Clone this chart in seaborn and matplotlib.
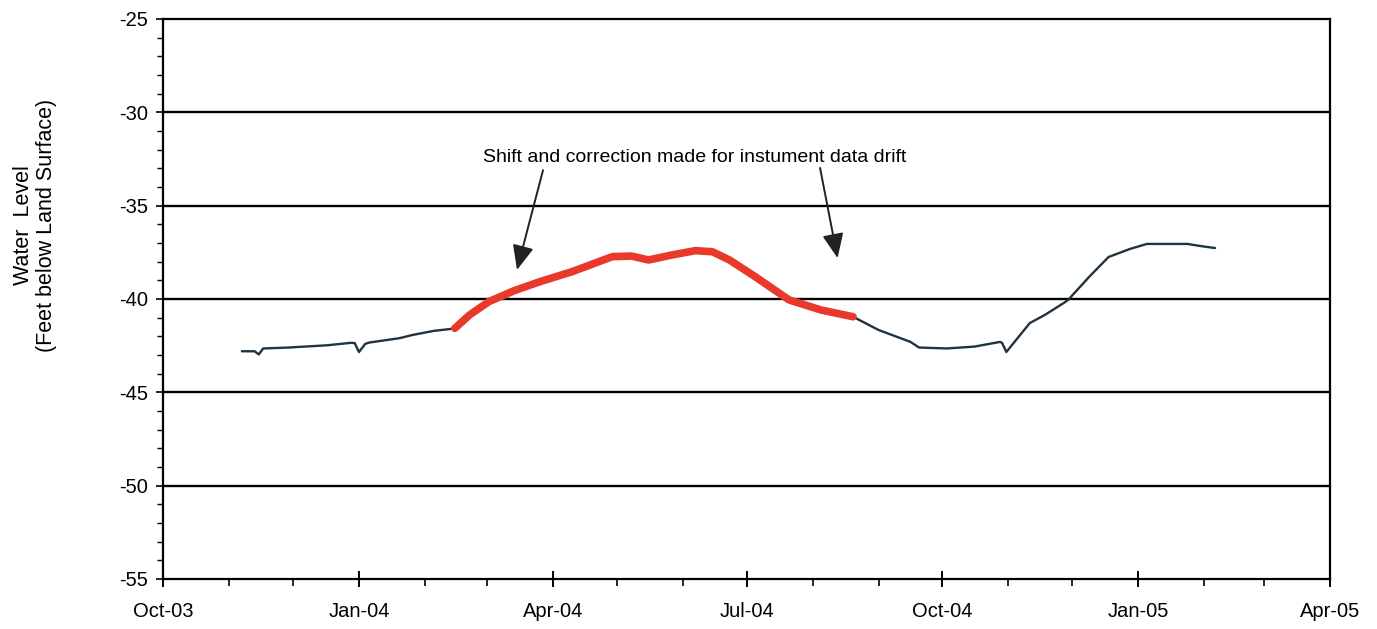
import pandas as pd
import matplotlib.pyplot as plt
import matplotlib.dates as mdates
from matplotlib.ticker import MultipleLocator
import seaborn as sns

# readings before the corrected period
pre_dates = ["2003-11-07", "2003-11-13", "2003-11-15", "2003-11-17", "2003-11-29",
             "2003-12-17", "2003-12-28", "2003-12-30", "2004-01-01", "2004-01-04",
             "2004-01-06", "2004-01-20", "2004-01-26", "2004-02-05", "2004-02-15"]
pre_level = [-42.80, -42.80, -42.97, -42.65, -42.60,
             -42.48, -42.35, -42.36, -42.84, -42.40,
             -42.33, -42.10, -41.93, -41.71, -41.58]

# shifted / corrected readings (red)
fix_dates = ["2004-02-15", "2004-02-22", "2004-03-02", "2004-03-14", "2004-03-26",
             "2004-04-10", "2004-04-29", "2004-05-08", "2004-05-16", "2004-05-27",
             "2004-06-07", "2004-06-15", "2004-06-23", "2004-07-05", "2004-07-21",
             "2004-08-05", "2004-08-20"]
fix_level = [-41.57, -40.85, -40.14, -39.55, -39.07,
             -38.54, -37.73, -37.70, -37.91, -37.64,
             -37.41, -37.47, -37.91, -38.80, -40.05,
             -40.59, -40.95]

# readings after the corrected period
post_dates = ["2004-08-20", "2004-09-01", "2004-09-16", "2004-09-20", "2004-10-03",
              "2004-10-16", "2004-10-28", "2004-10-29", "2004-10-31", "2004-11-11",
              "2004-11-18", "2004-11-27", "2004-11-29", "2004-12-09", "2004-12-18",
              "2004-12-28", "2005-01-05", "2005-01-24", "2005-01-30", "2005-02-06"]
post_level = [-40.95, -41.66, -42.30, -42.60, -42.65,
              -42.55, -42.30, -42.35, -42.84, -41.29,
              -40.86, -40.21, -40.05, -38.80, -37.75,
              -37.32, -37.05, -37.05, -37.16, -37.27]

pre = pd.DataFrame({"date": pd.to_datetime(pre_dates), "level": pre_level})
fix = pd.DataFrame({"date": pd.to_datetime(fix_dates), "level": fix_level})
post = pd.DataFrame({"date": pd.to_datetime(post_dates), "level": post_level})

sns.set_style("white")
plt.rcParams['font.family'] = ['Liberation Sans', 'DejaVu Sans']
plt.rcParams['axes.unicode_minus'] = False
plt.rcParams['text.color'] = 'black'
plt.rcParams['axes.labelcolor'] = 'black'

fig = plt.figure(figsize=(13.77, 6.29), dpi=100)
ax = fig.add_axes([0.1184, 0.0795, 0.8475, 0.8903])

line_col = "#1e3440"
sns.lineplot(data=pre, x="date", y="level", ax=ax, color=line_col, linewidth=1.7)
sns.lineplot(data=post, x="date", y="level", ax=ax, color=line_col, linewidth=1.7)
sns.lineplot(data=fix, x="date", y="level", ax=ax, color="#e8392b", linewidth=5.5,
             solid_capstyle="round")

ax.set_xlim(pd.Timestamp("2003-10-01"), pd.Timestamp("2005-04-01"))
ax.set_ylim(-55, -25)

for y in [-30, -35, -40, -45, -50]:
    ax.axhline(y, color="black", linewidth=1.7, zorder=0)

ax.yaxis.set_major_locator(MultipleLocator(5))
ax.yaxis.set_minor_locator(MultipleLocator(1))
ax.xaxis.set_major_locator(mdates.MonthLocator(bymonth=[1, 4, 7, 10]))
ax.xaxis.set_minor_locator(mdates.MonthLocator())
ax.xaxis.set_major_formatter(mdates.DateFormatter("%b-%y"))

ax.tick_params(axis="y", which="major", direction="out", length=5, width=1.2,
               labelsize=14.5, pad=6, left=True, colors="black")
ax.tick_params(axis="y", which="minor", direction="out", length=4, width=1, left=True,
               colors="black")
ax.tick_params(axis="x", which="major", direction="inout", length=11, width=1.4,
               labelsize=14.5, pad=11, bottom=True, colors="black")
ax.tick_params(axis="x", which="minor", direction="out", length=5, width=1.2, bottom=True,
               colors="black")

for s in ax.spines.values():
    s.set_color("black")
    s.set_linewidth(1.6)

ax.set_xlabel("")
ax.set_ylabel("")
fig.text(0.0255, 0.642, "Water  Level\n(Feet below Land Surface)", rotation=90,
         ha="center", va="center", fontsize=15.5, linespacing=1.15, multialignment="center")

ax.text(0.4555, 0.752, "Shift and correction made for instument data drift",
        transform=ax.transAxes, ha="center", va="center", fontsize=14)
arrow = dict(arrowstyle="-|>,head_length=1.5,head_width=0.65", color="#222222",
             linewidth=1.4, shrinkA=0, shrinkB=0)
ax.annotate("", xy=(0.3033, 0.552), xytext=(0.3256, 0.730),
            xycoords="axes fraction", textcoords="axes fraction", arrowprops=arrow)
ax.annotate("", xy=(0.578, 0.573), xytext=(0.563, 0.734),
            xycoords="axes fraction", textcoords="axes fraction", arrowprops=arrow)

fig.savefig("out.png", dpi=100)
